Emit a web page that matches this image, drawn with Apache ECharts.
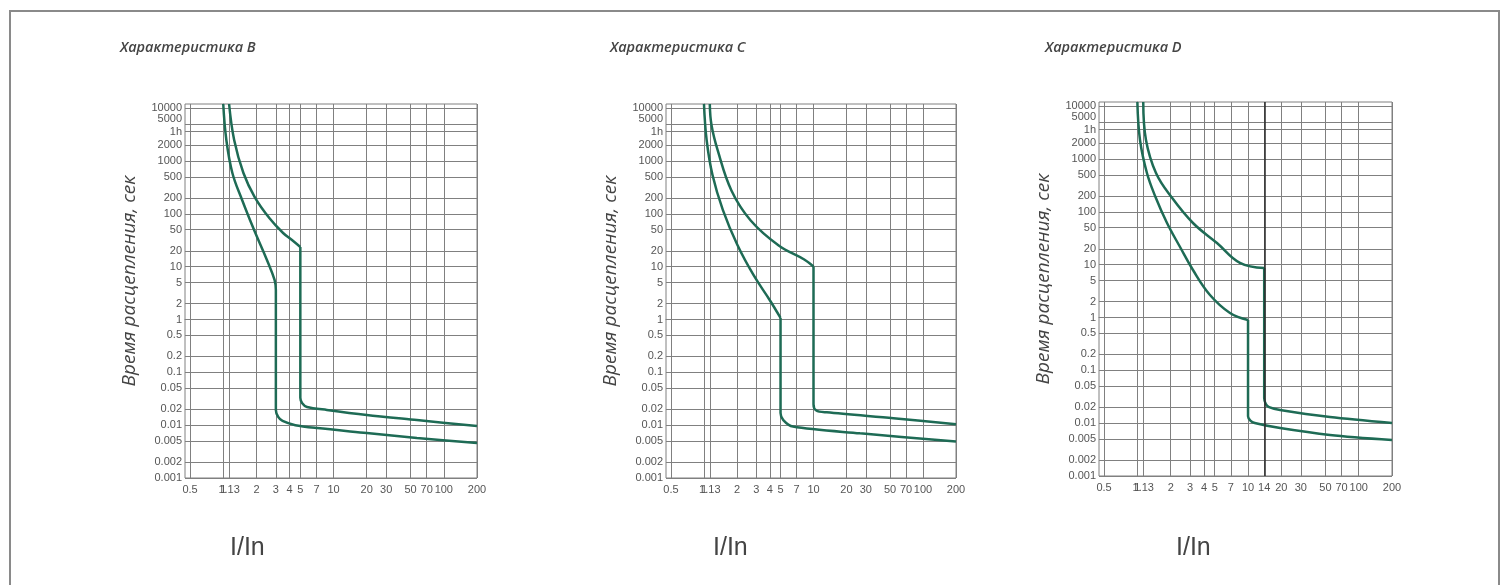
<!DOCTYPE html>
<html>
<head>
<meta charset="utf-8">
<title>Время-токовые характеристики B, C, D</title>
<script src="https://cdn.jsdelivr.net/npm/echarts@6/dist/echarts.min.js"></script>
<style>
  html, body { margin: 0; padding: 0; background: #fff; }
  #chart { width: 1509px; height: 585px; }
</style>
</head>
<body>
<div id="chart"></div>
<script>
  // шкала времени (сек), подписи как на исходнике
  const yTicks = [10000, 5000, 3600, 2000, 1000, 500, 200, 100, 50, 20, 10, 5, 2, 1, 0.5, 0.2, 0.1, 0.05, 0.02, 0.01, 0.005, 0.002, 0.001];
  const yTickLabels = ['10000', '5000', '1h', '2000', '1000', '500', '200', '100', '50', '20', '10', '5', '2', '1', '0.5', '0.2', '0.1', '0.05', '0.02', '0.01', '0.005', '0.002', '0.001'];
  // кратность тока I/In
  const xTicksBC = [0.5, 1, 1.13, 2, 3, 4, 5, 7, 10, 20, 30, 50, 70, 100, 200];
  const xTicksD = [0.5, 1, 1.13, 2, 3, 4, 5, 7, 10, 14, 20, 30, 50, 70, 100, 200];
  const xMarkD = 14;

  const titles = ['Характеристика B', 'Характеристика C', 'Характеристика D'];
  const yName = 'Время расцепления, сек';
  const xName = 'I/In';

  // кривые: верхняя часть (до вертикального участка) и нижняя (вертикаль + хвост)
  const bLowerTop = [[1, 12000], [1.067, 2500], [1.21, 593], [1.483, 183], [1.905, 49.4], [2.49, 13.4], [2.92, 5.6], [3, 3.62]];
  const bLowerTail = [[3, 3.62], [3, 0.0194], [3.15, 0.0143], [3.45, 0.012], [4.5, 0.01], [7.1, 0.0088], [20, 0.0071], [57, 0.0057], [200, 0.0046]];
  const bUpperTop = [[1.13, 12000], [1.256, 2500], [1.524, 593], [1.929, 208], [2.617, 83.4], [3.49, 43.4], [4.2, 32], [5, 23.6]];
  const bUpperTail = [[5, 23.6], [5, 0.033], [5.2, 0.026], [5.75, 0.0221], [8.7, 0.0194], [20, 0.0156], [57, 0.0125], [200, 0.0096]];

  const cLowerTop = [[1, 12000], [1.057, 2500], [1.196, 543], [1.489, 118], [2.02, 25.7], [2.83, 6.96], [3.98, 2.34], [5, 1.07]];
  const cLowerTail = [[5, 1.07], [5, 0.017], [5.3, 0.0125], [6.5, 0.0094], [26.6, 0.007], [200, 0.0049]];
  const cUpperTop = [[1.13, 12000], [1.171, 4800], [1.335, 1585], [1.78, 277], [2.67, 74.9], [4.81, 25.2], [8.23, 13.7], [10, 10.1]];
  const cUpperTail = [[10, 10.1], [10, 0.025], [10.6, 0.019], [13.2, 0.0175], [53.6, 0.0135], [200, 0.0104]];

  const dLowerTop = [[1, 12000], [1.056, 2290], [1.22, 543], [1.458, 191], [1.853, 61.5], [2.43, 21.6], [3.18, 7.92], [4.53, 2.67], [6.87, 1.22], [10, 0.9]];
  const dLowerTail = [[10, 0.9], [10, 0.0135], [10.5, 0.0112], [11.5, 0.0101], [19.5, 0.0081], [55, 0.006], [200, 0.0048]];
  const dUpperTop = [[1.13, 12000], [1.196, 2290], [1.473, 543], [2.03, 191], [3.18, 61.5], [5.24, 25.7], [8.45, 10.8], [14, 8.65]];
  const dUpperTail = [[14, 8.65], [14, 0.03], [14.5, 0.023], [15.5, 0.0202], [19.5, 0.0178], [55, 0.0131], [200, 0.0101]];

  const curves = [
    [bLowerTop, bLowerTail, bUpperTop, bUpperTail],
    [cLowerTop, cLowerTail, cUpperTop, cUpperTail],
    [dLowerTop, dLowerTail, dUpperTop, dUpperTail],
  ];
  const xTicksAll = [xTicksBC, xTicksBC, xTicksD];

  // размещение панелей
  const panels = [
    { left: 185, top: 104, width: 292, titleLeft: 120, xNameLeft: 230 },
    { left: 666, top: 104, width: 290, titleLeft: 610, xNameLeft: 713 },
    { left: 1099, top: 102, width: 293, titleLeft: 1045, xNameLeft: 1176 },
  ];
  const plotHeight = 374;
  const xMin = 0.45, xMax = 200;
  const yMin = 0.001, yMax = 12000;

  const gridColor = '#808080';
  const curveColor = '#1e6b55';
  const textColor = '#555';

  const lg = (v) => Math.log10(v);

  // подпись по значению из лог-шкалы
  const pickLabel = (value, ticks, labels) => {
    let best = 0;
    ticks.forEach((t, i) => {
      if (Math.abs(lg(t) - value) < Math.abs(lg(ticks[best]) - value)) best = i;
    });
    return labels[best];
  };

  const chart = echarts.init(document.getElementById('chart'));

  const grid = panels.map((p) => ({
    left: p.left, top: p.top, width: p.width, height: plotHeight,
    show: true, borderColor: gridColor, borderWidth: 1,
  }));

  const xAxis = panels.map((p, i) => {
    const ticks = xTicksAll[i];
    const labels = ticks.map((t) => String(t));
    return {
      gridIndex: i,
      type: 'value',
      min: lg(xMin),
      max: lg(xMax),
      axisLine: { show: true, lineStyle: { color: gridColor, width: 1 } },
      axisTick: { show: false, customValues: ticks.map(lg) },
      axisLabel: {
        customValues: ticks.map(lg),
        hideOverlap: false,
        formatter: (v) => pickLabel(v, ticks, labels),
        fontFamily: 'Liberation Sans Narrow, Arial Narrow, sans-serif',
        fontSize: 11,
        color: textColor,
        margin: 6,
      },
      splitLine: { show: true, lineStyle: { color: gridColor, width: 1 } },
    };
  });

  const yAxis = panels.map((p, i) => ({
    gridIndex: i,
    type: 'value',
    min: lg(yMin),
    max: lg(yMax),
    name: yName,
    nameLocation: 'middle',
    nameRotate: 90,
    nameGap: 46,
    nameTextStyle: { fontFamily: 'Open Sans', fontStyle: 'italic', fontSize: 19, color: '#444', padding: [0, 0, 0, 20] },
    axisLine: { show: true, lineStyle: { color: gridColor, width: 1 } },
    axisTick: { show: false, customValues: yTicks.map(lg) },
    axisLabel: {
      customValues: yTicks.map(lg),
      hideOverlap: false,
      formatter: (v) => {
        const s = pickLabel(v, yTicks, yTickLabels);
        return s === '5000' ? '{up|' + s + '}' : s;
      },
      rich: {
        up: { fontFamily: 'Liberation Sans', fontSize: 11, color: textColor, padding: [0, 0, 10, 0] },
      },
      fontFamily: 'Liberation Sans',
      fontSize: 11,
      color: textColor,
      margin: 3,
    },
    splitLine: { show: true, lineStyle: { color: gridColor, width: 1 } },
  }));

  const series = [];
  curves.forEach((set, i) => {
    set.forEach((pts, k) => {
      series.push({
        name: titles[i] + ' ' + k,
        type: 'line',
        xAxisIndex: i,
        yAxisIndex: i,
        data: pts.map((p) => [lg(p[0]), lg(p[1])]),
        showSymbol: false,
        smooth: k % 2 === 0 ? 0.4 : 0.3,
        lineStyle: { color: curveColor, width: 2.5 },
        silent: true,
      });
    });
  });
  // тёмная вертикаль 14·In на характеристике D
  series[series.length - 1].markLine = {
    silent: true,
    symbol: ['none', 'none'],
    label: { show: false },
    lineStyle: { color: '#2a2a2a', width: 1.5, type: 'solid' },
    data: [{ xAxis: lg(xMarkD) }],
  };

  const title = [];
  panels.forEach((p, i) => {
    title.push({
      text: titles[i],
      left: p.titleLeft,
      top: 40,
      padding: 0,
      textStyle: { fontFamily: 'Open Sans', fontStyle: 'italic', fontWeight: 600, fontSize: 14.5, color: '#444' },
    });
    title.push({
      text: xName,
      left: p.xNameLeft,
      top: 536,
      padding: 0,
      textStyle: { fontFamily: 'Liberation Sans Narrow, sans-serif', fontWeight: 'normal', fontSize: 25, color: '#444' },
    });
  });

  const option = {
    animation: false,
    backgroundColor: '#fff',
    title,
    grid,
    xAxis,
    yAxis,
    series,
    graphic: [
      {
        type: 'rect',
        silent: true,
        shape: { x: 10, y: 11, width: 1489, height: 600 },
        style: { fill: 'none', stroke: '#8a8a8a', lineWidth: 2 },
      },
    ],
  };

  option && chart.setOption(option);
</script>
</body>
</html>
